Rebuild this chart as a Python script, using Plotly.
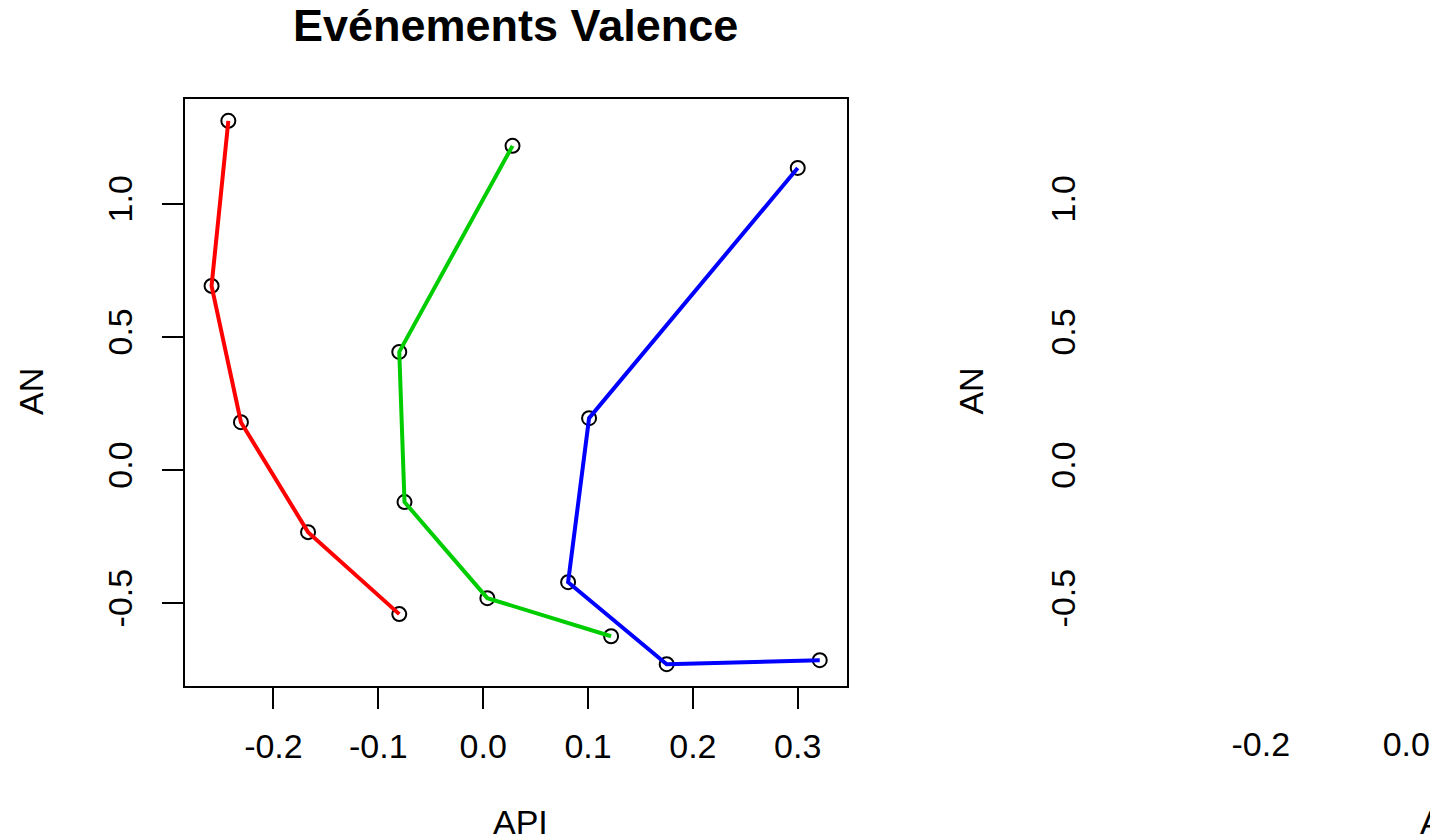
import plotly.graph_objects as go

# Data (API on x, AN on y)
red_api = [-0.243, -0.259, -0.231, -0.167, -0.080]
red_an = [1.312, 0.692, 0.180, -0.233, -0.541]

green_api = [0.028, -0.080, -0.075, 0.004, 0.122]
green_an = [1.218, 0.444, -0.120, -0.481, -0.624]

blue_api = [0.300, 0.101, 0.081, 0.175, 0.321]
blue_an = [1.135, 0.195, -0.421, -0.729, -0.714]

x_ticks_left = [-0.2, -0.1, 0.0, 0.1, 0.2, 0.3]
x_ticks_right = [-0.2, 0.0, 0.2]
y_ticks = [-0.5, 0.0, 0.5, 1.0]

title_text = "Evénements Valence"
x_label = "API"
y_label = "AN"

W, H = 1430, 839
FONT = "Liberation Sans, Arial, sans-serif"
TICK_SIZE = 34

series = [
    (red_api, red_an, "#FF0000"),
    (green_api, green_an, "#00CD00"),
    (blue_api, blue_an, "#0000FF"),
]

fig = go.Figure()
for xs, ys, col in series:
    fig.add_trace(go.Scatter(
        x=xs, y=ys, mode="markers", xaxis="x", yaxis="y",
        marker=dict(symbol="circle-open", size=14, color="black",
                    line=dict(width=2, color="black")),
        showlegend=False, hoverinfo="skip"))
for xs, ys, col in series:
    fig.add_trace(go.Scatter(
        x=xs, y=ys, mode="lines", xaxis="x", yaxis="y",
        line=dict(color=col, width=4),
        showlegend=False, hoverinfo="skip"))

# Invisible trace so the second (cut-off) panel axes exist
fig.add_trace(go.Scatter(x=[None], y=[None], xaxis="x2", yaxis="y2",
                         mode="markers", showlegend=False, hoverinfo="skip"))

def px_x(p):
    return p / W

def px_y(p):
    return 1 - p / H

y_dom = [px_y(686), px_y(99)]

fig.update_layout(
    width=W, height=H,
    margin=dict(l=0, r=0, t=0, b=0),
    paper_bgcolor="white", plot_bgcolor="white",
    font=dict(family=FONT, color="black", size=TICK_SIZE),
    xaxis=dict(
        domain=[px_x(186), px_x(850)], range=[-0.284, 0.347],
        anchor="y", tickvals=x_ticks_left, ticktext=[f"{v:.1f}" for v in x_ticks_left],
        showgrid=False, zeroline=False, showline=True, mirror=True,
        linecolor="black", linewidth=2, ticks="outside", ticklen=21,
        tickwidth=2, tickcolor="black", ticklabelstandoff=8,
        tickfont=dict(size=TICK_SIZE),
    ),
    yaxis=dict(
        domain=y_dom, range=[-0.811, 1.394], anchor="x",
        tickvals=y_ticks, ticktext=[f"{v:.1f}" for v in y_ticks],
        showgrid=False, zeroline=False, showline=True, mirror=True,
        linecolor="black", linewidth=2, ticks="outside", ticklen=21,
        tickwidth=2, tickcolor="black", tickangle=-90, ticklabelstandoff=17,
        tickfont=dict(size=TICK_SIZE),
    ),
    xaxis2=dict(
        domain=[px_x(1128), 1.0], range=[-0.388, 0.0257], anchor="y2",
        tickvals=x_ticks_right, ticktext=[f"{v:.1f}" for v in x_ticks_right],
        showgrid=False, zeroline=False, showline=False, ticks="",
        ticklabelstandoff=35, ticklabeloverflow="allow",
        tickfont=dict(size=TICK_SIZE),
    ),
    yaxis2=dict(
        domain=y_dom, range=[-0.811, 1.394], anchor="x2",
        tickvals=y_ticks, ticktext=[f"{v:.1f}" for v in y_ticks],
        showgrid=False, zeroline=False, showline=False, ticks="",
        tickangle=-90, ticklabelstandoff=41, ticklabeloverflow="allow",
        tickfont=dict(size=TICK_SIZE),
    ),
)

annotations = [
    dict(text=f"<b>{title_text}</b>", x=px_x(517), y=px_y(26), xref="paper", yref="paper",
         xanchor="center", yanchor="middle", showarrow=False,
         font=dict(family=FONT, size=45, color="black")),
    dict(text=x_label, x=px_x(522), y=px_y(822), xref="paper", yref="paper",
         xanchor="center", yanchor="middle", showarrow=False,
         font=dict(family=FONT, size=TICK_SIZE, color="black")),
    dict(text=y_label, x=px_x(31), y=px_y(391), xref="paper", yref="paper",
         xanchor="center", yanchor="middle", showarrow=False, textangle=-90,
         font=dict(family=FONT, size=TICK_SIZE, color="black")),
    dict(text=y_label, x=px_x(974), y=px_y(391), xref="paper", yref="paper",
         xanchor="center", yanchor="middle", showarrow=False, textangle=-90,
         font=dict(family=FONT, size=TICK_SIZE, color="black")),
    dict(text=x_label, x=px_x(1423), y=px_y(822), xref="paper", yref="paper",
         xanchor="left", yanchor="middle", showarrow=False,
         font=dict(family=FONT, size=TICK_SIZE, color="black")),
]
fig.update_layout(annotations=annotations)

fig.write_html(
    "out.html",
    config={"displayModeBar": False},
    post_script="document.body.style.margin='0';document.body.style.overflow='hidden';",
)
